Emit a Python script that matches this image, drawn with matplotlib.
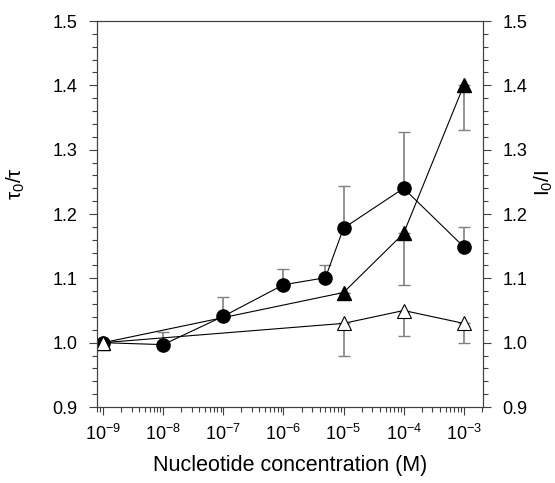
import numpy as np
import matplotlib.pyplot as plt
from matplotlib.ticker import LogLocator, MultipleLocator, FixedLocator

plt.rcParams['font.family'] = ['Liberation Sans', 'DejaVu Sans']
plt.rcParams['mathtext.fontset'] = 'custom'
plt.rcParams['mathtext.rm'] = 'Liberation Sans'
plt.rcParams['mathtext.it'] = 'Liberation Sans'
plt.rcParams['mathtext.default'] = 'regular'
plt.rcParams['axes.unicode_minus'] = False

# filled circles (tau0/tau), error bars upward
x_circ = [1e-9, 1e-8, 1e-7, 1e-6, 5e-6, 1e-5, 1e-4, 1e-3]
y_circ = [1.0, 0.997, 1.041, 1.09, 1.101, 1.178, 1.240, 1.149]
err_circ = [0.0, 0.020, 0.030, 0.024, 0.020, 0.066, 0.087, 0.031]

# filled triangles, error bars downward
x_tri = [1e-9, 1e-5, 1e-4, 1e-3]
y_tri = [1.0, 1.078, 1.170, 1.400]
err_tri = [0.0, 0.0, 0.080, 0.070]

# open triangles, error bars downward
x_open = [1e-9, 1e-5, 1e-4, 1e-3]
y_open = [1.0, 1.030, 1.050, 1.030]
err_open = [0.0, 0.050, 0.040, 0.030]

tick_pos = [1e-9, 1e-8, 1e-7, 1e-6, 1e-5, 1e-4, 1e-3]
tick_lab = ['$10^{-9}$', '$10^{-8}$', '$10^{-7}$', '$10^{-6}$',
            '$10^{-5}$', '$10^{-4}$', '$10^{-3}$']

fig = plt.figure(figsize=(5.55, 4.83), dpi=100)
ax = fig.add_axes([0.1748, 0.1573, 0.6955, 0.7992])

ecol = '#808080'
ax.errorbar(x_circ, y_circ, yerr=[np.zeros(len(err_circ)), err_circ], fmt='none',
            ecolor=ecol, elinewidth=1.2, capsize=4, capthick=1.0, zorder=1)
ax.errorbar(x_tri, y_tri, yerr=[err_tri, np.zeros(len(err_tri))], fmt='none',
            ecolor=ecol, elinewidth=1.2, capsize=4, capthick=1.0, zorder=1)
ax.errorbar(x_open, y_open, yerr=[err_open, np.zeros(len(err_open))], fmt='none',
            ecolor=ecol, elinewidth=1.2, capsize=4, capthick=1.0, zorder=1)

ax.plot(x_circ, y_circ, '-', color='black', lw=0.8, marker='o', ms=9.5,
        mfc='black', mec='black', zorder=3)
ax.plot(x_tri, y_tri, '-', color='black', lw=0.8, marker='^', ms=9.5,
        mfc='black', mec='black', zorder=4)
ax.plot(x_open, y_open, '-', color='black', lw=0.8, marker='^', ms=9.5,
        mfc='white', mec='black', mew=0.8, zorder=5)

ax.set_xscale('log')
ax.set_xlim(10**-9.1, 10**-2.68)
ax.set_ylim(0.9, 1.5)
ax.xaxis.set_major_locator(FixedLocator(tick_pos))
ax.set_xticklabels(tick_lab)
ax.xaxis.set_minor_locator(LogLocator(base=10, subs=np.arange(2, 10)))
ax.xaxis.set_minor_formatter(plt.NullFormatter())
ax.yaxis.set_major_locator(MultipleLocator(0.1))
ax.yaxis.set_minor_locator(MultipleLocator(0.02))
ax.yaxis.set_major_formatter(plt.FormatStrFormatter('%.1f'))

ax.tick_params(which='major', direction='out', length=6, width=0.8, labelsize=13,
               color='#404040', pad=8)
ax.tick_params(axis='x', which='major', pad=6)
ax.tick_params(which='minor', direction='out', length=3.5, width=0.8, color='#404040')
ax.tick_params(axis='y', which='both', left=True, right=False)

for s in ax.spines.values():
    s.set_linewidth(0.8)
    s.set_color('#404040')

ax2 = ax.twinx()
ax2.set_ylim(0.9, 1.5)
ax2.yaxis.set_major_locator(MultipleLocator(0.1))
ax2.yaxis.set_minor_locator(MultipleLocator(0.02))
ax2.yaxis.set_major_formatter(plt.FormatStrFormatter('%.1f'))
ax2.tick_params(which='major', direction='out', length=6, width=0.8, labelsize=13,
                color='#404040', pad=8)
ax2.tick_params(which='minor', direction='out', length=3.5, width=0.8, color='#404040')
for s in ax2.spines.values():
    s.set_linewidth(0.8)
    s.set_color('#404040')

ax.set_xlabel('Nucleotide concentration (M)', fontsize=15.5, labelpad=8)
ax.set_ylabel('τ$_0$/τ', fontsize=15)
ax.yaxis.set_label_coords(-0.181, 0.58)
ax2.set_ylabel('I$_0$/I', fontsize=15, rotation=90)
ax2.yaxis.set_label_coords(1.128, 0.58)

fig.savefig('out.png', dpi=100)
